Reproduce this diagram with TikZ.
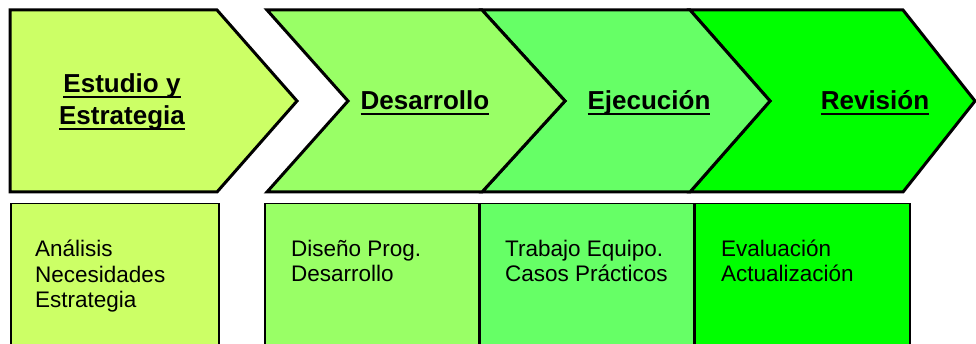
\documentclass[tikz,border=0pt]{standalone}
\usepackage{fontspec}
\setmainfont{Liberation Sans}
\definecolor{verdeA}{HTML}{CCFF66}
\definecolor{verdeB}{HTML}{99FF66}
\definecolor{verdeC}{HTML}{66FF66}
\definecolor{verdeD}{HTML}{00FF00}
\newcommand{\subr}[1]{\setbox0\hbox{#1}\rlap{\rule[-5.5pt]{\wd0}{2.3pt}}\box0}
\begin{document}
\begin{tikzpicture}[x=1pt,y=-1pt,
  etapa/.style={draw=black,line width=3pt},
  titulo/.style={font=\fontsize{26}{32}\selectfont\bfseries,align=center,anchor=base},
  caja/.style={draw=black,line width=1.5pt,anchor=north west,minimum height=160pt,inner sep=0pt},
  lista/.style={font=\fontsize{22.5}{25.7}\selectfont,align=left,anchor=base west,inner sep=0pt}]
\useasboundingbox (0,0) rectangle (976,344);
\clip (0,0) rectangle (976,344);
% flechas
\draw[etapa,fill=verdeD] (690,10) -- (903,10) -- (975,101) -- (903,192) -- (690,192) -- (770,101) -- cycle;
\draw[etapa,fill=verdeC] (482,10) -- (690,10) -- (770,101) -- (690,192) -- (482,192) -- (565,101) -- cycle;
\draw[etapa,fill=verdeB] (267,10) -- (482,10) -- (565,101) -- (482,192) -- (267,192) -- (348,101) -- cycle;
\draw[etapa,fill=verdeA] (10,10) -- (217,10) -- (297,101) -- (217,192) -- (10,192) -- cycle;
\node[titulo] (estudio) at (122,125) {\subr{Estudio y}\\\subr{Estrategia}};
\node[titulo] (desarrollo) at (425,110) {\subr{Desarrollo}};
\node[titulo] (ejecucion) at (649,110) {\subr{Ejecución}};
\node[titulo] (revision) at (875,110) {\subr{Revisión}};
% cajas
\node[caja,fill=verdeA,minimum width=208pt] (c1) at (10,203) {};
\node[caja,fill=verdeB,minimum width=214pt] (c2) at (264,203) {};
\node[caja,fill=verdeC,minimum width=213pt] (c3) at (c2.north east) {};
\node[caja,fill=verdeD,minimum width=215pt] (c4) at (c3.north east) {};
\node[lista] (t1) at (35,308) {Análisis\\Necesidades\\Estrategia};
\node[lista] (t2) at (291,282) {Diseño Prog.\\Desarrollo};
\node[lista] (t3) at (505,282) {Trabajo Equipo.\\Casos Prácticos};
\node[lista] (t4) at (721,282) {Evaluación\\Actualización};
\end{tikzpicture}
\end{document}
